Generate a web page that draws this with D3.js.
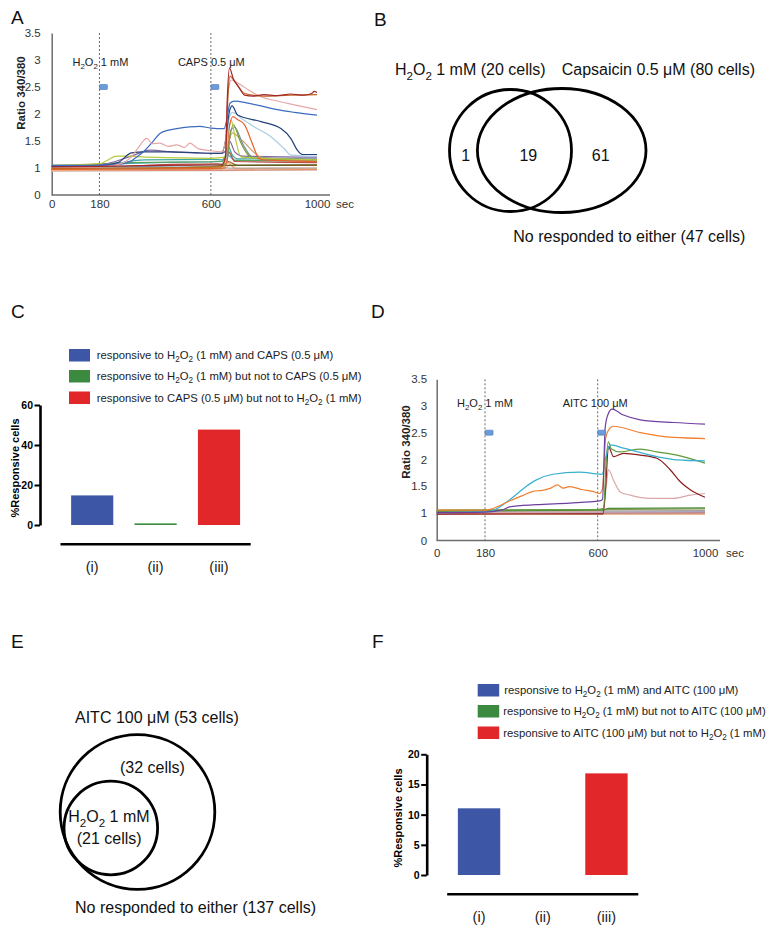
<!DOCTYPE html>
<html><head><meta charset="utf-8">
<script src="https://cdn.jsdelivr.net/npm/d3@7"></script>
<style>
body{margin:0;background:#fff;}
svg{display:block;font-family:"Liberation Sans",Arial,Helvetica,sans-serif;}
</style>
</head><body>
<svg id="chart" width="774" height="933"></svg>
<script>
// ---------------- DATA ----------------
const ratioTicks = [0, 1, 1.5, 2, 2.5, 3, 3.5];
const timeTicks = [0, 180, 600, 1000];
const stimTimes = [180, 600];
const stimLabelsA = ["H2O2 1 mM", "CAPS 0.5 μM"];
const stimLabelsD = ["H2O2 1 mM", "AITC 100 μM"];
const stimMarkerLevel = 2.5;
const stimMarkerDuration = 30;

// Panel A traces: [time (sec), ratio 340/380]
const tracesA = [
  [[0,0.88],[660,0.9],[1000,0.93]],
  [[0,0.9],[640,0.92],[1000,0.94]],
  [[0,0.92],[650,0.95],[670,1.05],[700,1.0],[1000,1.0]],
  [[0,0.93],[640,0.96],[665,1.1],[690,0.98],[1000,0.97]],
  [[0,0.96],[640,0.98],[660,1.0],[680,0.99],[1000,1.0]],
  [[0,0.97],[640,1.03],[665,1.12],[700,1.05],[1000,1.05]],
  [[0,1.0],[640,1.05],[1000,1.06]],
  [[0,1.04],[400,1.1],[640,1.12],[660,1.25],[690,1.14],[1000,1.13]],
  [[0,1.01],[300,1.1],[640,1.12],[665,1.3],[690,1.14],[1000,1.13]],
  [[0,0.98],[180,1.0],[400,1.06],[640,1.08],[655,1.1],[668,1.3],[690,1.12],[1000,1.1]],
  [[0,1.02],[180,1.04],[350,1.15],[600,1.16],[650,1.15],[665,1.4],[680,1.25],[700,1.17],[1000,1.16]],
  [[0,1.05],[180,1.06],[300,1.22],[371,1.33],[450,1.3],[550,1.28],[640,1.27],[660,1.35],[670,1.5],[690,1.3],[720,1.22],[1000,1.2]],
  [[0,1.0],[650,1.02],[665,1.4],[680,1.65],[720,1.5],[790,1.2],[1000,1.12]],
  [[0,1.02],[600,1.05],[660,1.1],[675,1.7],[690,1.75],[720,1.45],[758,1.2],[1000,1.17]],
  [[0,1.0],[180,1.0],[600,1.03],[658,1.1],[672,1.6],[685,1.8],[710,1.5],[739,1.25],[760,1.18],[1000,1.15]],
  [[0,1.05],[180,1.08],[246,1.22],[300,1.22],[350,1.2],[600,1.18],[655,1.2],[668,1.75],[677,1.88],[690,1.6],[714,1.2],[1000,1.15]],
  [[0,0.95],[180,0.96],[600,0.98],[655,1.0],[668,1.7],[683,1.95],[700,1.9],[727,1.8],[751,1.52],[770,1.28],[780,1.18],[800,1.15],[1000,1.12]],
  [[0,1.0],[180,1.0],[600,1.05],[655,1.1],[668,1.9],[680,2.03],[720,1.9],[764,1.76],[826,1.58],[876,1.36],[901,1.24],[1000,1.22]],
  [[0,1.03],[180,1.04],[250,1.1],[300,1.28],[350,1.3],[450,1.3],[550,1.28],[640,1.27],[655,1.5],[670,2.05],[680,2.15],[701,1.98],[789,1.86],[864,1.73],[901,1.55],[926,1.33],[945,1.25],[1000,1.25]],
  [[0,1.05],[180,1.05],[260,1.07],[296,1.12],[320,1.2],[346,1.3],[380,1.48],[408,1.64],[440,1.7],[471,1.73],[520,1.76],[558,1.77],[600,1.74],[650,1.73],[660,1.9],[672,2.2],[689,2.24],[740,2.2],[789,2.15],[850,2.08],[914,2.03],[1000,1.98]],
  [[0,1.0],[180,1.02],[260,1.08],[300,1.2],[330,1.4],[358,1.55],[380,1.45],[408,1.46],[440,1.4],[471,1.43],[500,1.38],[521,1.46],[552,1.36],[600,1.32],[640,1.3],[655,1.5],[665,2.4],[677,2.63],[700,2.58],[740,2.45],[789,2.32],[850,2.24],[914,2.17],[1000,2.08]],
  [[0,0.98],[180,0.99],[640,1.02],[655,1.2],[664,2.3],[672,2.7],[690,2.6],[727,2.38],[800,2.33],[900,2.35],[1000,2.36]],
  [[0,1.02],[180,1.03],[400,1.05],[640,1.06],[655,1.2],[662,2.3],[670,2.85],[685,2.65],[705,2.5],[727,2.35],[760,2.33],[800,2.36],[850,2.34],[900,2.37],[950,2.35],[980,2.38],[990,2.42],[1000,2.4]]
];
const colorsA = ["#cfcfcf","#e07a64","#f3c4a3","#f4a460","#a6a6a6","#9c5a1a","#4f6228","#4bacc6","#5ba35b","#c0504d","#3fa5a5","#8064a2","#c8a070","#7a8fa8","#7e9a3a","#b5c93e","#e8632b","#a9cce3","#22427a","#3c6cc0","#e8a6a6","#c0661e","#a3282a"];

// Panel D traces
const tracesD = [
  [[0,0.95],[1000,0.95]],
  [[0,0.97],[1000,0.98]],
  [[0,0.98],[1000,1.0]],
  [[0,1.0],[1000,1.02]],
  [[0,1.02],[1000,1.04]],
  [[0,1.04],[1000,1.07]],
  [[0,1.03],[620,1.05],[640,1.08],[1000,1.09]],
  [[0,1.0],[620,1.02],[632,1.5],[640,1.81],[659,1.61],[684,1.39],[721,1.33],[796,1.27],[883,1.27],[945,1.33],[1000,1.36]],
  [[0,0.95],[620,0.96],[630,1.5],[640,2.24],[659,2.05],[696,2.11],[759,2.08],[821,2.02],[871,1.8],[908,1.58],[945,1.43],[1000,1.29]],
  [[0,1.05],[600,1.06],[622,1.08],[632,2.0],[640,2.33],[650,2.2],[684,2.14],[759,2.19],[821,2.14],[895,2.08],[1000,1.93]],
  [[0,1.0],[196,1.02],[271,1.24],[333,1.49],[370,1.61],[433,1.72],[532,1.76],[613,1.72],[618,1.73],[633,2.1],[647,2.27],[696,2.21],[821,2.05],[895,1.99],[1000,1.97]],
  [[0,1.05],[184,1.05],[230,1.12],[271,1.22],[320,1.32],[358,1.4],[395,1.42],[420,1.45],[451,1.52],[470,1.46],[495,1.49],[545,1.43],[580,1.4],[607,1.36],[618,1.45],[630,2.4],[645,2.58],[659,2.62],[759,2.5],[883,2.41],[1000,2.39]],
  [[0,1.0],[180,1.01],[249,1.06],[271,1.11],[370,1.15],[495,1.18],[607,1.22],[618,1.25],[628,2.6],[640,2.86],[653,2.94],[696,2.83],[759,2.74],[883,2.69],[1000,2.66]]
];
const colorsD = ["#e8a070","#c09070","#c88080","#b0a0c8","#a0a0a0","#8a9a50","#4e8a3a","#d8a8a8","#8a1c1c","#5e9c3a","#3aafd0","#f08030","#6f3fa0"];

// Venn diagrams
const vennBSets = ["H2O2 1 mM (20 cells)", "Capsaicin 0.5 μM (80 cells)"];
const vennBCounts = ["1", "19", "61"];
const vennBNone = "No responded to either (47 cells)";
const vennESets = ["AITC 100 μM (53 cells)", "H2O2 1 mM"];
const vennECounts = ["(32 cells)", "(21 cells)"];
const vennENone = "No responded to either (137 cells)";

// Bar charts
const barCategories = ["(i)", "(ii)", "(iii)"];
const barCValues = [14.8, 0.8, 47.7];
const barFValues = [11.05, 0, 16.84];
const barCTicks = [0, 20, 40, 60];
const barFTicks = [0, 5, 10, 15, 20];
const legendC = ["responsive to H2O2 (1 mM) and CAPS (0.5 μM)",
                 "responsive to H2O2 (1 mM) but not to CAPS (0.5 μM)",
                 "responsive to CAPS (0.5 μM) but not to H2O2 (1 mM)"];
const legendF = ["responsive to H2O2 (1 mM) and AITC (100 μM)",
                 "responsive to H2O2 (1 mM) but not to AITC (100 μM)",
                 "responsive to AITC (100 μM) but not to H2O2 (1 mM)"];
const barColors = ["#3d56a6", "#3c8a3f", "#e2272b"];

// ---------------- DRAWING ----------------
const svg = d3.select("#chart");

function richText(sel, str, fs) {
  const segs = [];
  str.split("H2O2").forEach((p, i, arr) => {
    if (p) segs.push([p, false]);
    if (i < arr.length - 1) segs.push(["H", false], ["2", true], ["O", false], ["2", true]);
  });
  let cur = 0;
  segs.forEach(([txt, sub]) => {
    const off = sub ? fs * 0.3 : 0;
    const t = sel.append("tspan").text(txt);
    if (sub) t.attr("font-size", fs * 0.72);
    if (off !== cur) t.attr("dy", off - cur);
    cur = off;
  });
  return sel;
}

function panelLabel(t, x, y) {
  svg.append("text").attr("x", x).attr("y", y).attr("font-size", 19).attr("fill", "#111").text(t);
}

function tracePanel(cfg) {
  const g = svg.append("g");
  const x = d3.scaleLinear().domain([0, 1000]).range([cfg.x0, cfg.x1]);
  const y = d3.scaleLinear().domain([0, 1, 3.5]).range([cfg.y0, cfg.y1, cfg.yTop]);
  const ya = g.append("g").attr("transform", `translate(${cfg.x0},0)`)
    .call(d3.axisLeft(y).tickValues(ratioTicks).tickSize(0).tickSizeOuter(0).tickPadding(cfg.yPad).tickFormat(d => String(d)));
  ya.select(".domain").attr("stroke", "#6d6d6d").attr("stroke-width", 1.5);
  ya.selectAll("text").attr("font-size", 11.5).attr("fill", "#333").attr("font-family", "Liberation Sans, Arial");
  const xa = g.append("g").attr("transform", `translate(0,${cfg.y0})`)
    .call(d3.axisBottom(x).tickValues(timeTicks).tickSize(0).tickSizeOuter(0).tickPadding(cfg.xPad).tickFormat(d => String(d)));
  xa.select(".domain").remove();
  xa.selectAll("text").attr("font-size", 11.5).attr("fill", "#333").attr("font-family", "Liberation Sans, Arial");
  g.append("line").attr("x1", cfg.x0).attr("x2", cfg.xEnd).attr("y1", cfg.y0).attr("y2", cfg.y0)
    .attr("stroke", "#6d6d6d").attr("stroke-width", 1.5);
  g.append("text").attr("x", cfg.xEnd + 6).attr("y", cfg.y0 + cfg.xPad + 8.2).attr("font-size", 11.5).attr("fill", "#333").text("sec");
  g.append("text").attr("transform", `translate(${cfg.titleX},${cfg.titleY}) rotate(-90)`)
    .attr("text-anchor", "middle").attr("font-size", 11.5).attr("font-weight", "bold").attr("fill", "#222")
    .text("Ratio 340/380");
  g.selectAll(".stim").data(stimTimes).join("line")
    .attr("x1", d => x(d)).attr("x2", d => x(d)).attr("y1", cfg.yTop).attr("y2", cfg.y0)
    .attr("stroke", "#444").attr("stroke-width", 0.8).attr("stroke-dasharray", "2,2");
  const line = d3.line().x(d => x(d[0])).y(d => y(d[1])).curve(d3.curveMonotoneX);
  g.selectAll(".tr").data(cfg.traces).join("path")
    .attr("d", line).attr("fill", "none")
    .attr("stroke", (d, i) => cfg.colors[i]).attr("stroke-width", 1.2).attr("stroke-linejoin", "round");
  g.selectAll(".mk").data(stimTimes).join("rect")
    .attr("x", d => x(d)).attr("width", d => x(d + stimMarkerDuration) - x(d))
    .attr("y", y(stimMarkerLevel) - 2.5).attr("height", 5)
    .attr("fill", "#6b9bd8").attr("stroke", "#4a78bd").attr("stroke-width", 0.6).attr("rx", 0.8);
  cfg.labels.forEach((lab, i) => {
    const t = g.append("text").attr("x", x(stimTimes[i]) + cfg.labelDx[i]).attr("y", cfg.labelY)
      .attr("font-size", 11).attr("fill", "#222");
    richText(t, lab, 11);
  });
}

// Panel A
panelLabel("A", 11, 24);
tracePanel({x0: 51.7, x1: 317, xEnd: 330, y0: 195, y1: 168, yTop: 33, yPad: 11, xPad: 5,
  titleX: 25, titleY: 93, traces: tracesA, colors: colorsA, labels: stimLabelsA, labelDx: [-27, -33], labelY: 66});

// Panel D
panelLabel("D", 371, 318);
tracePanel({x0: 436.7, x1: 705, xEnd: 720, y0: 540.5, y1: 512.7, yTop: 379.3, yPad: 9.5, xPad: 8.5,
  titleX: 410, titleY: 442, traces: tracesD, colors: colorsD, labels: stimLabelsD, labelDx: [-28, -35], labelY: 407});

// Panel B Venn
panelLabel("B", 374, 26);
{
  const g = svg.append("g");
  const t1 = g.append("text").attr("x", 395).attr("y", 75).attr("font-size", 16).attr("fill", "#111");
  richText(t1, vennBSets[0], 16);
  g.append("text").attr("x", 561.7).attr("y", 75).attr("font-size", 16).attr("fill", "#111").text(vennBSets[1]);
  g.append("ellipse").attr("cx", 510.5).attr("cy", 150.5).attr("rx", 61).attr("ry", 61)
    .attr("fill", "none").attr("stroke", "#000").attr("stroke-width", 2.8);
  g.append("ellipse").attr("cx", 561.7).attr("cy", 150.5).attr("rx", 84.3).attr("ry", 62)
    .attr("fill", "none").attr("stroke", "#000").attr("stroke-width", 2.8);
  const nx = [465.7, 528.3, 600.7];
  vennBCounts.forEach((c, i) => g.append("text").attr("x", nx[i]).attr("y", 161).attr("text-anchor", "middle")
    .attr("font-size", 16).attr("fill", "#111").text(c));
  g.append("text").attr("x", 513.3).attr("y", 242).attr("font-size", 16).attr("fill", "#111").text(vennBNone);
}

// Panel E Venn
panelLabel("E", 11, 648);
panelLabel("F", 372, 648);
{
  const g = svg.append("g");
  g.append("text").attr("x", 75).attr("y", 723).attr("font-size", 16).attr("fill", "#111").text(vennESets[0]);
  g.append("circle").attr("cx", 137.5).attr("cy", 812).attr("r", 77.3)
    .attr("fill", "none").attr("stroke", "#000").attr("stroke-width", 2.8);
  g.append("circle").attr("cx", 110.8).attr("cy", 828).attr("r", 46.8)
    .attr("fill", "none").attr("stroke", "#000").attr("stroke-width", 2.8);
  g.append("text").attr("x", 120).attr("y", 773).attr("font-size", 16).attr("fill", "#111").text(vennECounts[0]);
  const t2 = g.append("text").attr("x", 68.3).attr("y", 822).attr("font-size", 16).attr("fill", "#111");
  richText(t2, vennESets[1], 16);
  g.append("text").attr("x", 76.7).attr("y", 844).attr("font-size", 16).attr("fill", "#111").text(vennECounts[1]);
  g.append("text").attr("x", 75).attr("y", 913).attr("font-size", 16).attr("fill", "#111").text(vennENone);
}

function barPanel(cfg) {
  const g = svg.append("g");
  const y = d3.scaleLinear().domain([0, cfg.max]).range([cfg.y0, cfg.yTop]);
  const x = d3.scaleBand().domain(barCategories).range([cfg.bx0, cfg.bx1]).paddingInner(0.335).paddingOuter(0.1675);
  g.selectAll(".bar").data(cfg.values).join("rect")
    .attr("x", (d, i) => x(barCategories[i])).attr("width", x.bandwidth())
    .attr("y", d => y(d)).attr("height", d => cfg.y0 - y(d))
    .attr("fill", (d, i) => barColors[i]);
  const ya = g.append("g").attr("transform", `translate(${cfg.ax},0)`)
    .call(d3.axisLeft(y).tickValues(cfg.ticks).tickSize(5.5).tickSizeOuter(0).tickPadding(1.5));
  ya.select(".domain").attr("stroke", "#000").attr("stroke-width", 2.6);
  ya.selectAll(".tick line").attr("stroke", "#000").attr("stroke-width", 2);
  ya.selectAll("text").attr("font-size", 10.5).attr("font-weight", "bold").attr("fill", "#000").attr("font-family", "Liberation Sans, Arial");
  g.append("text").attr("transform", `translate(${cfg.titleX},${cfg.titleY}) rotate(-90)`)
    .attr("text-anchor", "middle").attr("font-size", 11).attr("font-weight", "bold").attr("fill", "#000")
    .text("%Responsive cells");
  g.append("line").attr("x1", cfg.bx0).attr("x2", cfg.bx1).attr("y1", cfg.baseY).attr("y2", cfg.baseY)
    .attr("stroke", "#000").attr("stroke-width", 2.6);
  g.selectAll(".cat").data(barCategories).join("text")
    .attr("x", d => x(d) + x.bandwidth() / 2).attr("y", cfg.catY).attr("text-anchor", "middle")
    .attr("font-size", 14.5).attr("fill", "#222").text(d => d);
  cfg.legend.forEach((lab, i) => {
    g.append("rect").attr("x", cfg.lx).attr("y", cfg.ly[i] - 6).attr("width", cfg.lw).attr("height", 12.5).attr("fill", barColors[i]);
    const t = g.append("text").attr("x", cfg.tx[i]).attr("y", cfg.ly[i] + 4).attr("font-size", 11.3).attr("fill", "#222");
    richText(t, lab, 11.3);
  });
}

panelLabel("C", 11, 318);
barPanel({max: 60, y0: 525, yTop: 405, ax: 40, bx0: 60.5, bx1: 250.7, values: barCValues, ticks: barCTicks,
  titleX: 19, titleY: 468, baseY: 544.3, catY: 572, legend: legendC,
  lx: 69, lw: 21, ly: [355, 376, 397.5], tx: [96.7, 96.7, 96.7]});

barPanel({max: 20, y0: 875, yTop: 754.3, ax: 426.7, bx0: 447.2, bx1: 638.3, values: barFValues, ticks: barFTicks,
  titleX: 402, titleY: 818, baseY: 894.3, catY: 922, legend: legendF,
  lx: 477.7, lw: 21.5, ly: [690, 711, 732.5], tx: [504.3, 503.3, 503.3]});
</script>
</body></html>
